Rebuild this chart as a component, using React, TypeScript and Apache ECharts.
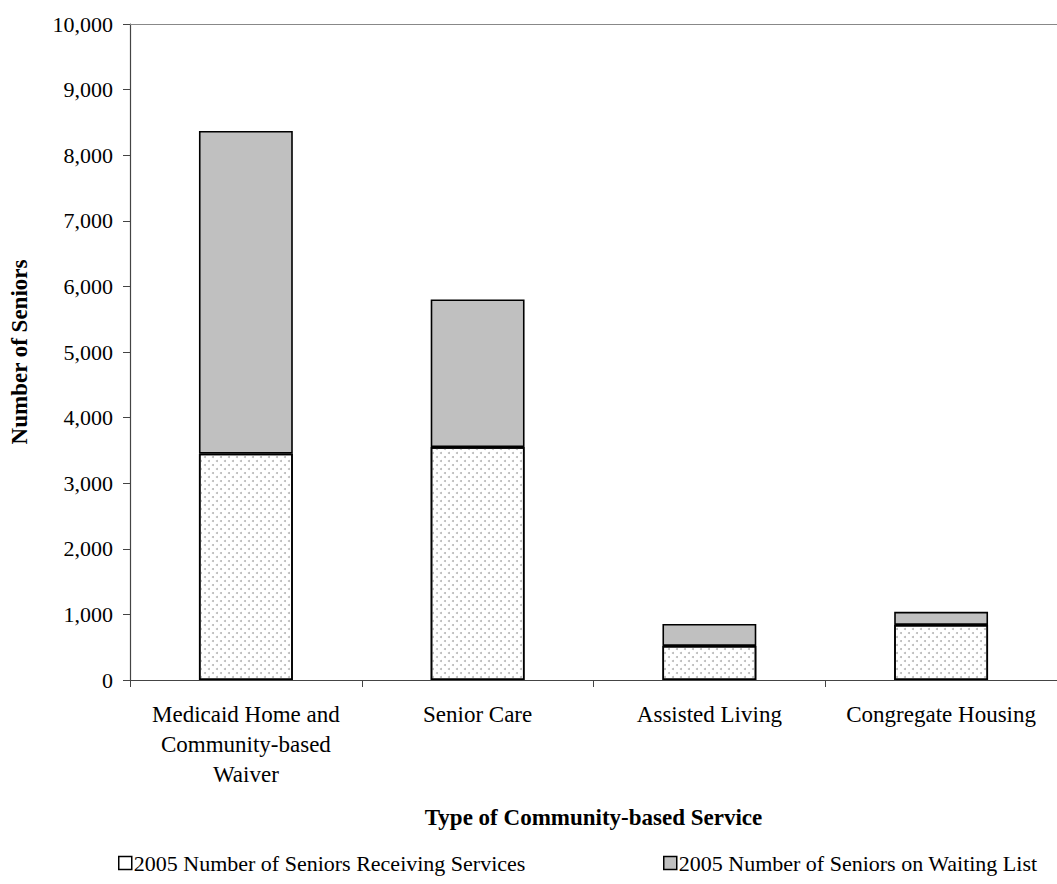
import React, { useEffect, useRef } from "react";
import * as echarts from "echarts";

const categories = [
  "Medicaid Home and\nCommunity-based\nWaiver",
  "Senior Care",
  "Assisted Living",
  "Congregate Housing",
];
const receiving = [3450, 3550, 520, 840];
const waiting = [4920, 2250, 335, 200];
const yTicks = { min: 0, max: 10000, interval: 1000 };
const seriesNames = [
  "2005 Number of Seniors Receiving Services",
  "2005 Number of Seniors on Waiting List",
];

const FONT = "'Liberation Serif', 'Times New Roman', serif";

export default function App() {
  const ref = useRef<HTMLDivElement>(null);
  useEffect(() => {
    if (!ref.current) return;
    const chart = echarts.init(ref.current, null, { renderer: "svg" });
    const dotDecal = {
      symbol: "circle",
      symbolSize: 1,
      color: "rgba(110,110,110,0.5)",
      dashArrayX: [
        [2, 6],
        [0, 4, 2, 2],
      ],
      dashArrayY: [2, 2],
      rotation: 0,
    };
    chart.setOption({
      animation: false,
      backgroundColor: "#ffffff",
      textStyle: { fontFamily: FONT, color: "#000" },
      grid: { left: 128, top: 24, width: 941, height: 656, containLabel: false },
      legend: [
        {
          left: 118,
          top: 852,
          padding: 0,
          data: [seriesNames[0]],
          itemWidth: 13,
          itemHeight: 13,
          itemGap: 4,
          textStyle: { fontFamily: FONT, fontSize: 22, color: "#000", padding: [0, 0, 0, -3] },
          itemStyle: { borderColor: "#000", borderWidth: 1.5, decal: "none" },
          icon: "rect",
        },
        {
          left: 663,
          top: 852,
          padding: 0,
          data: [seriesNames[1]],
          itemWidth: 13,
          itemHeight: 13,
          textStyle: { fontFamily: FONT, fontSize: 22, color: "#000", padding: [0, 0, 0, -3] },
          itemStyle: { borderColor: "#000", borderWidth: 1.5 },
          icon: "rect",
        },
      ],
      xAxis: [
        {
          type: "category",
          data: categories,
          axisLine: { lineStyle: { color: "#444", width: 1.2 } },
          axisTick: { show: true, length: 7, lineStyle: { color: "#444" } },
          axisLabel: {
            fontFamily: FONT,
            fontSize: 23,
            color: "#000",
            margin: 19,
            lineHeight: 30,
            interval: 0,
          },
          name: "Type of Community-based Service",
          nameLocation: "middle",
          nameGap: 126,
          nameTextStyle: { fontFamily: FONT, fontSize: 23, fontWeight: "bold", color: "#000" },
        },
        {
          type: "category",
          position: "top",
          data: categories,
          axisLine: { show: true, lineStyle: { color: "#888", width: 1.2 } },
          axisTick: { show: false },
          axisLabel: { show: false },
        },
      ],
      yAxis: {
        type: "value",
        min: yTicks.min,
        max: yTicks.max,
        interval: yTicks.interval,
        axisLine: { show: true, lineStyle: { color: "#444", width: 1.2 } },
        axisTick: { show: true, length: 7, lineStyle: { color: "#444" } },
        splitLine: { show: false },
        axisLabel: {
          fontFamily: FONT,
          fontSize: 22,
          color: "#000",
          margin: 17,
          formatter: (v: number) => v.toLocaleString("en-US"),
        },
        name: "Number of Seniors",
        nameLocation: "middle",
        nameGap: 99,
        nameTextStyle: { fontFamily: FONT, fontSize: 23, fontWeight: "bold", color: "#000" },
      },
      series: [
        {
          name: seriesNames[0],
          type: "bar",
          stack: "total",
          barWidth: "40.5%",
          data: receiving,
          itemStyle: {
            color: "#ffffff",
            borderColor: "#000",
            borderWidth: 1.6,
            decal: dotDecal,
          },
        },
        {
          name: seriesNames[1],
          type: "bar",
          stack: "total",
          barWidth: "40.5%",
          data: waiting,
          itemStyle: { color: "#c0c0c0", borderColor: "#000", borderWidth: 1.6 },
        },
      ],
    });
    return () => chart.dispose();
  }, []);
  return (
    <div
      ref={ref}
      style={{ position: "absolute", left: 0, top: 0, width: 1057, height: 884 }}
    />
  );
}
